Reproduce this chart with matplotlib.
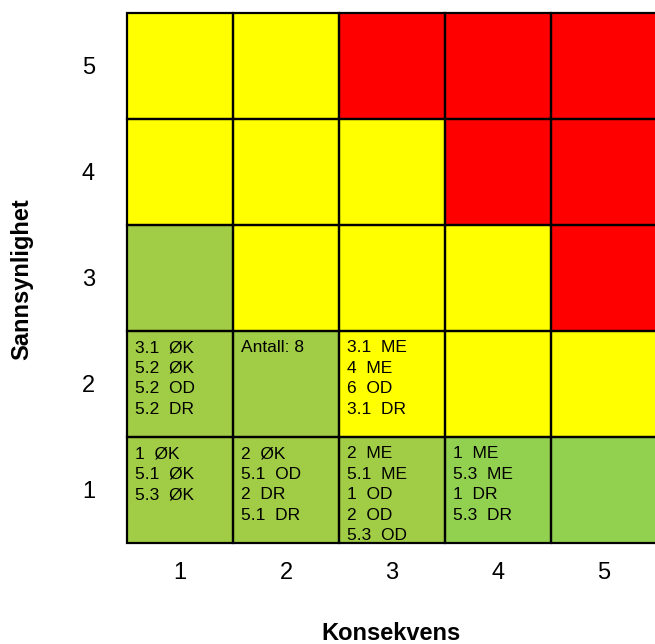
import matplotlib
matplotlib.use("Agg")
import matplotlib.pyplot as plt
from matplotlib.patches import Rectangle

plt.rcParams['font.family'] = ['Liberation Sans', 'DejaVu Sans']

consequence = [1, 2, 3, 4, 5]
likelihood = [1, 2, 3, 4, 5]
x_tick_labels = ["1", "2", "3", "4", "5"]
y_tick_labels = ["1", "2", "3", "4", "5"]

G1 = "#A0CD45"
G2 = "#92D050"
Y = "#FFFF00"
R = "#FF0000"

# colours, rows indexed by likelihood 1..5 (bottom to top), columns by consequence 1..5
cell_colors = [
    [G1, G1, G1, G2, G2],   # likelihood 1
    [G1, G1, Y, Y, Y],      # likelihood 2
    [G1, Y, Y, Y, R],       # likelihood 3
    [Y, Y, Y, R, R],        # likelihood 4
    [Y, Y, R, R, R],        # likelihood 5
]

# cell texts keyed by (consequence, likelihood)
cell_texts = {
    (1, 2): ["3.1  ØK", "5.2  ØK", "5.2  OD", "5.2  DR"],
    (2, 2): ["Antall: 8"],
    (3, 2): ["3.1  ME", "4  ME", "6  OD", "3.1  DR"],
    (1, 1): ["1  ØK", "5.1  ØK", "5.3  ØK"],
    (2, 1): ["2  ØK", "5.1  OD", "2  DR", "5.1  DR"],
    (3, 1): ["2  ME", "5.1  ME", "1  OD", "2  OD", "5.3  OD"],
    (4, 1): ["1  ME", "5.3  ME", "1  DR", "5.3  DR"],
}

DPI = 100
fig = plt.figure(figsize=(6.55, 6.44), dpi=DPI)
ax = fig.add_axes([127 / 655, 101 / 644, 530 / 655, 530 / 644])
ax.set_xlim(0.5, 5.5)
ax.set_ylim(0.5, 5.5)

rects = {}
for ri, lk in enumerate(likelihood):
    for ci, cq in enumerate(consequence):
        r = Rectangle((cq - 0.5, lk - 0.5), 1, 1, facecolor=cell_colors[ri][ci],
                      edgecolor="none", linewidth=0, zorder=1)
        ax.add_patch(r)
        rects[(cq, lk)] = r
        ax.add_patch(Rectangle((cq - 0.5, lk - 0.5), 1, 1, facecolor="none",
                               edgecolor="black", linewidth=1.6, zorder=4,
                               clip_on=False))

for (cq, lk), lines in cell_texts.items():
    for i, line in enumerate(lines):
        t = ax.annotate(line, xy=(cq - 0.5, lk + 0.5), xycoords="data",
                        xytext=(8, -21.5 - i * 20.4), textcoords="offset pixels",
                        ha="left", va="baseline", fontsize=12.5, color="black",
                        zorder=2, annotation_clip=False)
        t.set_clip_path(rects[(cq, lk)])

for s in ax.spines.values():
    s.set_visible(False)

ax.set_xticks(consequence)
ax.set_xticklabels(x_tick_labels, fontsize=17)
ax.set_yticks(likelihood)
ax.set_yticklabels(y_tick_labels, fontsize=17)
ax.tick_params(axis="both", length=0)
ax.tick_params(axis="x", pad=14)
ax.tick_params(axis="y", pad=23)

ax.set_xlabel("Konsekvens", fontsize=17, fontweight="bold")
ax.xaxis.set_label_coords((391 - 127) / 530, (543 - 633) / 530)
ax.xaxis.label.set_va("center")
ax.set_ylabel("Sannsynlighet", fontsize=17, fontweight="bold")
ax.yaxis.set_label_coords((22 - 127) / 530, (543 - 279) / 530)
ax.yaxis.label.set_va("center")

fig.savefig("out.png", dpi=DPI)
